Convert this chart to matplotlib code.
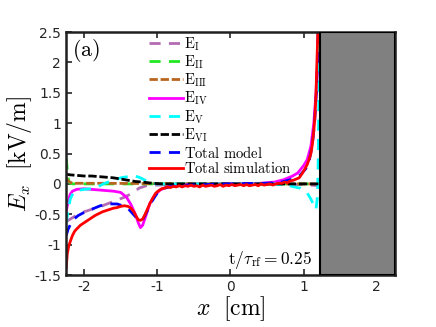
import matplotlib
matplotlib.use('Agg')
from matplotlib import pyplot as plt
from matplotlib.patches import Rectangle

plt.rcParams['mathtext.fontset'] = 'cm'

# field components, x in cm, E in kV/m
e1_x = [-2.245, -2.15, -2.05, -1.9, -1.75, -1.6, -1.45, -1.37, -1.3, -1.25, -1.15, -1.0, -0.8, -0.5, 0, 0.5, 0.9, 1.1, 1.22]
e1_y = [-0.62, -0.55, -0.48, -0.42, -0.36, -0.29, -0.22, -0.17, -0.12, -0.07, -0.03, -0.02, -0.01, 0, 0, 0, -0.01, -0.02, -0.03]

e2_x = [-2.245, -2.235, -2.225, -2.21, -2.19, -2.15, -2.0, -1.5, -1.0, 0, 1.0, 1.22]
e2_y = [0.42, 0.3, 0.15, 0.05, 0.01, 0.0, 0.0, 0.0, 0.0, 0.0, 0.0, 0.0]

e3_x = [-2.245, -2.22, -2.18, -2.12, -1.8, -1.0, 0, 1.0, 1.22]
e3_y = [0.1, 0.05, 0.02, 0.01, 0.01, 0.005, 0, 0, 0]

e4_x = [-2.245, -2.22, -2.19, -2.16, -2.1, -2.0, -1.9, -1.8, -1.7, -1.6, -1.5, -1.42, -1.36, -1.3,
        -1.26, -1.23, -1.2, -1.16, -1.1, -1.03, -0.96, -0.85, -0.7, -0.5, 0, 0.4, 0.6, 0.73, 0.85,
        0.92, 1.0, 1.05, 1.1, 1.14, 1.17, 1.19, 1.205]
e4_y = [-0.45, -0.3, -0.17, -0.12, -0.09, -0.08, -0.09, -0.1, -0.11, -0.12, -0.14, -0.22, -0.34, -0.5,
        -0.64, -0.72, -0.68, -0.54, -0.32, -0.18, -0.1, -0.04, -0.02, -0.01, 0, 0.01, 0.03, 0.07, 0.13,
        0.18, 0.3, 0.4, 0.62, 1.0, 1.5, 2.0, 2.6]

e5_x = [-2.245, -2.22, -2.19, -2.15, -2.1, -2.0, -1.9, -1.8, -1.74, -1.6, -1.5, -1.4, -1.3, -1.23,
        -1.15, -1.08, -1.0, -0.8, 0, 0.6, 0.8, 0.95, 1.05, 1.1, 1.14, 1.17, 1.19, 1.2, 1.21, 1.215]
e5_y = [-0.65, -0.45, -0.25, -0.15, -0.11, -0.09, -0.08, -0.04, 0.0, 0.06, 0.1, 0.12, 0.13, 0.1,
        0.05, 0.01, 0.0, 0, 0, 0, -0.03, -0.07, -0.15, -0.25, -0.35, -0.42, -0.2, 0.4, 1.5, 2.6]

e6_x = [-2.245, -2.2, -2.1, -2.0, -1.9, -1.8, -1.7, -1.6, -1.5, -1.4, -1.3, -1.2, -1.1, -1.0, -0.9, -0.8, 0, 1.0, 1.22]
e6_y = [0.16, 0.15, 0.14, 0.13, 0.13, 0.12, 0.11, 0.1, 0.08, 0.06, 0.04, 0.03, 0.015, 0.005, 0, 0, 0, 0, 0]

model_x = [-2.245, -2.22, -2.18, -2.14, -2.08, -2.0, -1.9, -1.78, -1.65, -1.55, -1.45, -1.38, -1.32,
           -1.27, -1.23, -1.19, -1.14, -1.08, -1.0, -0.9, -0.8, -0.6, 0, 0.5, 0.7, 0.85, 0.95, 1.03,
           1.08, 1.12, 1.15, 1.175, 1.19, 1.2]
model_y = [-0.85, -0.75, -0.65, -0.58, -0.52, -0.47, -0.42, -0.36, -0.33, -0.33, -0.37, -0.43, -0.51,
           -0.58, -0.61, -0.57, -0.45, -0.3, -0.15, -0.07, -0.04, -0.02, 0, 0.01, 0.03, 0.08, 0.14, 0.25,
           0.4, 0.65, 1.0, 1.5, 2.0, 2.6]

sim_x = [-2.245, -2.23, -2.21, -2.19, -2.16, -2.13, -2.1, -2.05, -2.0, -1.95, -1.9, -1.85, -1.8, -1.75,
         -1.7, -1.65, -1.6, -1.55, -1.5, -1.45, -1.4, -1.36, -1.32, -1.29, -1.26, -1.23, -1.2, -1.17,
         -1.14, -1.1, -1.06, -1.02, -0.98, -0.94, -0.9, -0.86, -0.82, -0.78, -0.74, -0.7, -0.66, -0.62,
         -0.58, -0.54, -0.5, -0.46, -0.42, -0.38, -0.34, -0.3, -0.26, -0.22, -0.18, -0.14, -0.1, -0.06,
         -0.02, 0.02, 0.06, 0.1, 0.14, 0.18, 0.22, 0.26, 0.3, 0.34, 0.38, 0.42, 0.46, 0.5, 0.54, 0.58,
         0.62, 0.66, 0.7, 0.74, 0.78, 0.82, 0.86, 0.9, 0.94, 0.98, 1.02, 1.05, 1.08, 1.1, 1.12, 1.14,
         1.155, 1.17, 1.18, 1.19, 1.2]
sim_y = [-1.38, -1.15, -1.02, -0.95, -0.85, -0.78, -0.74, -0.68, -0.64, -0.6, -0.56, -0.52, -0.49, -0.46,
         -0.44, -0.42, -0.4, -0.39, -0.37, -0.36, -0.37, -0.4, -0.46, -0.53, -0.59, -0.6, -0.58, -0.51,
         -0.43, -0.32, -0.23, -0.15, -0.11, -0.08, -0.07, -0.05, -0.06, -0.04, -0.05, -0.03, -0.05, -0.03,
         -0.04, -0.02, -0.04, -0.03, -0.05, -0.02, -0.04, -0.03, -0.02, -0.04, -0.03, -0.01, -0.04, -0.02,
         -0.03, -0.01, -0.03, -0.02, -0.01, -0.03, -0.01, -0.03, -0.02, -0.01, -0.03, 0.0, -0.02, -0.01,
         0.0, -0.02, 0.0, 0.01, 0.01, 0.03, 0.02, 0.05, 0.06, 0.08, 0.1, 0.17, 0.25, 0.32, 0.42, 0.5,
         0.65, 0.88, 1.1, 1.5, 1.9, 2.3, 2.7]

wall_x = 1.22

fig = plt.figure(figsize=(4.36, 3.27), dpi=100)
ax = fig.add_axes([0.151, 0.159, 0.755, 0.743])

lw = 2
ax.plot(e1_x, e1_y, color='#b36bb3', lw=lw, dashes=(4, 3), label=r'$\mathrm{E_{I}}$')
ax.plot(e2_x, e2_y, color='#22e822', lw=lw, dashes=(4, 3), label=r'$\mathrm{E_{II}}$')
ax.plot(e3_x, e3_y, color='#b8661f', lw=lw, dashes=(3, 1), label=r'$\mathrm{E_{III}}$')
ax.plot(e4_x, e4_y, color='#ff00ff', lw=lw, label=r'$\mathrm{E_{IV}}$')
ax.plot(e5_x, e5_y, color='#00ffff', lw=lw, dashes=(4, 3), label=r'$\mathrm{E_{V}}$')
ax.plot(e6_x, e6_y, color='black', lw=lw, dashes=(3, 1), label=r'$\mathrm{E_{VI}}$')
ax.plot(model_x, model_y, color='#0000ff', lw=lw, dashes=(4, 3), label=r'$\mathrm{Total\ model}$')
ax.plot(sim_x, sim_y, color='#ff0000', lw=lw, label=r'$\mathrm{Total\ simulation}$')

ax.add_patch(Rectangle((wall_x, -1.5), 2.25 - wall_x, 4.0, facecolor='#808080',
                       edgecolor='black', lw=1.5, zorder=5))

ax.set_xlim(-2.25, 2.25)
ax.set_ylim(-1.5, 2.5)
ax.set_xticks([-2, -1, 0, 1, 2])
ax.set_xticklabels(['-2', '-1', '0', '1', '2'])
ax.set_yticks([-1.5, -1, -0.5, 0, 0.5, 1, 1.5, 2, 2.5])
ax.set_yticklabels(['-1.5', '-1', '-0.5', '0', '0.5', '1', '1.5', '2', '2.5'])
ax.tick_params(direction='in', top=True, right=False, length=4, width=1.2, labelsize=10, colors='#262626')
for s in ax.spines.values():
    s.set_linewidth(1.8)
    s.set_color('#202020')

ax.set_xlabel(r'$x\ \ \mathrm{[cm]}$', fontsize=17, labelpad=0)
ax.set_ylabel(r'$E_x\ \ \mathrm{[kV/m]}$', fontsize=17, labelpad=0)

ax.text(-2.17, 2.2, r'$\mathrm{(a)}$', fontsize=16, va='center')
ax.text(1.12, -1.25, r'$\mathrm{t}/\tau_{\mathrm{rf}} = 0.25$', fontsize=12.5, ha='right', va='center')

ax.legend(loc='upper left', bbox_to_anchor=(0.222, 1.03), frameon=False, fontsize=10.5,
          handlelength=2.3, handletextpad=0.1, labelspacing=0.05, borderpad=0.2)

fig.savefig('out.png', dpi=100)
